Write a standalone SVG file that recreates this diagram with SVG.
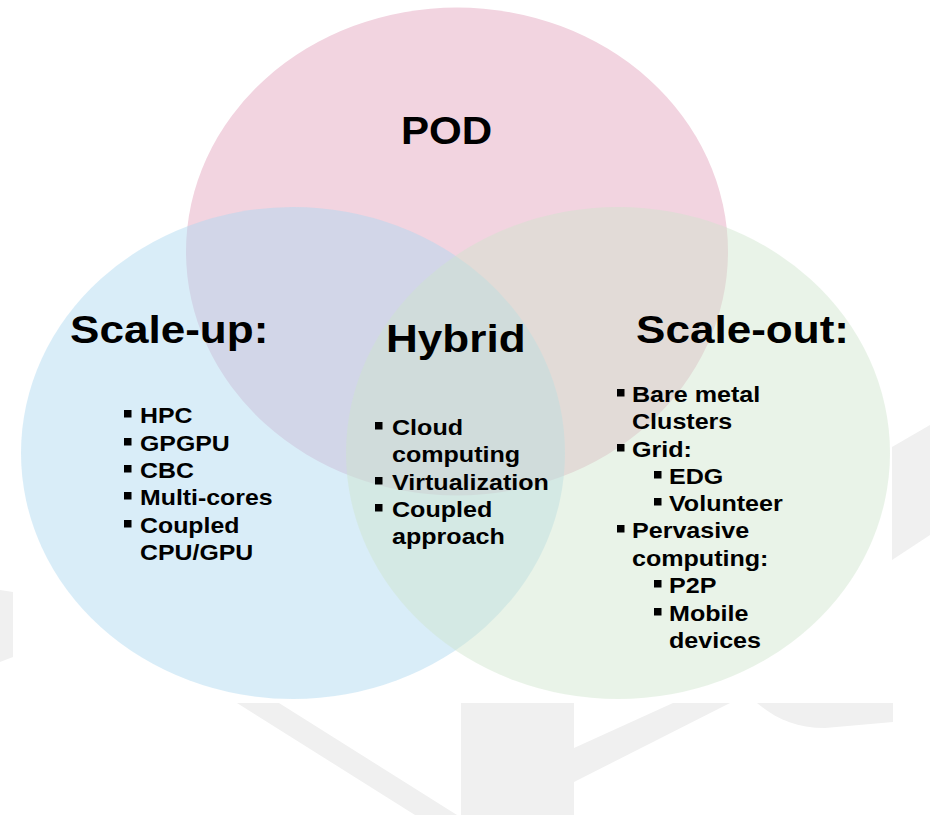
<svg xmlns="http://www.w3.org/2000/svg" width="930" height="815" viewBox="0 0 930 815">
  <style>
    .wm { fill: #f0f0f0; }
    .t { font-family: "Liberation Sans", Arial, sans-serif; font-weight: bold; font-size: 39px; fill: #000; }
    .b { font-family: "Liberation Sans", Arial, sans-serif; font-weight: bold; font-size: 22px; fill: #000; }
    .sq { fill: #000; }
  </style>
  <defs>
    <rect id="bul" width="7.5" height="7.5" class="sq"/>
  </defs>
  <rect width="930" height="815" fill="#ffffff"/>
  <!-- faint watermark outside pasted picture -->
  <g id="watermark">
    <polygon class="wm" points="0,590 13,592 13,657 0,662"/>
    <polygon class="wm" points="237,703 279,703 457,815 415,815"/>
    <rect class="wm" x="461" y="703" width="113" height="112"/>
    <polygon class="wm" points="673,703 730,703 574,782 574,748"/>
    <path class="wm" d="M757,703 C775,718 795,728 825,728 L893,722 L893,703 Z"/>
    <polygon class="wm" points="892,447 930,425 930,535 892,560"/>
  </g>
  <g id="pod">
    <ellipse cx="457" cy="251.5" rx="271" ry="244" fill="#f2d4e0"/>
  </g>
  <g id="scale-up">
    <ellipse cx="293" cy="453" rx="272" ry="246" fill="rgb(174,217,240)" fill-opacity="0.47"/>
  </g>
  <g id="scale-out">
    <ellipse cx="618" cy="453" rx="272" ry="246" fill="rgb(206,229,204)" fill-opacity="0.45"/>
  </g>
  <g id="connectors"/>
  <g id="labels">
    <text class="t" transform="translate(401 144) scale(1.08 1)">POD</text>
    <text class="t" transform="translate(70 343) scale(1.13 1)">Scale-up:</text>
    <text class="t" transform="translate(386 352) scale(1.13 1)">Hybrid</text>
    <text class="t" transform="translate(636 343) scale(1.13 1)">Scale-out:</text>
  </g>
  <g id="scale-up-list">
    <use href="#bul" x="124" y="410"/>
    <use href="#bul" x="124" y="438"/>
    <use href="#bul" x="124" y="465"/>
    <use href="#bul" x="124" y="492"/>
    <use href="#bul" x="124" y="520"/>
    <text class="b" transform="translate(140 0) scale(1.13 1)">
      <tspan x="0" y="423">HPC</tspan>
      <tspan x="0" y="451">GPGPU</tspan>
      <tspan x="0" y="478">CBC</tspan>
      <tspan x="0" y="505">Multi-cores</tspan>
      <tspan x="0" y="533">Coupled</tspan>
      <tspan x="0" y="560">CPU/GPU</tspan>
    </text>
  </g>
  <g id="hybrid-list">
    <use href="#bul" x="375" y="422"/>
    <use href="#bul" x="375" y="477"/>
    <use href="#bul" x="375" y="504"/>
    <text class="b" transform="translate(392 0) scale(1.14 1)">
      <tspan x="0" y="435">Cloud</tspan>
      <tspan x="0" y="462">computing</tspan>
      <tspan x="0" y="490">Virtualization</tspan>
      <tspan x="0" y="517">Coupled</tspan>
      <tspan x="0" y="544">approach</tspan>
    </text>
  </g>
  <g id="scale-out-list">
    <use href="#bul" x="617" y="389"/>
    <use href="#bul" x="617" y="444"/>
    <use href="#bul" x="654" y="471"/>
    <use href="#bul" x="654" y="498"/>
    <use href="#bul" x="617" y="525"/>
    <use href="#bul" x="654" y="580"/>
    <use href="#bul" x="654" y="608"/>
    <text class="b" transform="translate(632 0) scale(1.14 1)">
      <tspan x="0" y="402">Bare metal</tspan>
      <tspan x="0" y="429">Clusters</tspan>
      <tspan x="0" y="457">Grid:</tspan>
      <tspan x="0" y="538">Pervasive</tspan>
      <tspan x="0" y="566">computing:</tspan>
    </text>
    <text class="b" transform="translate(669 0) scale(1.14 1)">
      <tspan x="0" y="484">EDG</tspan>
      <tspan x="0" y="511">Volunteer</tspan>
      <tspan x="0" y="593">P2P</tspan>
      <tspan x="0" y="621">Mobile</tspan>
      <tspan x="0" y="648">devices</tspan>
    </text>
  </g>
</svg>
